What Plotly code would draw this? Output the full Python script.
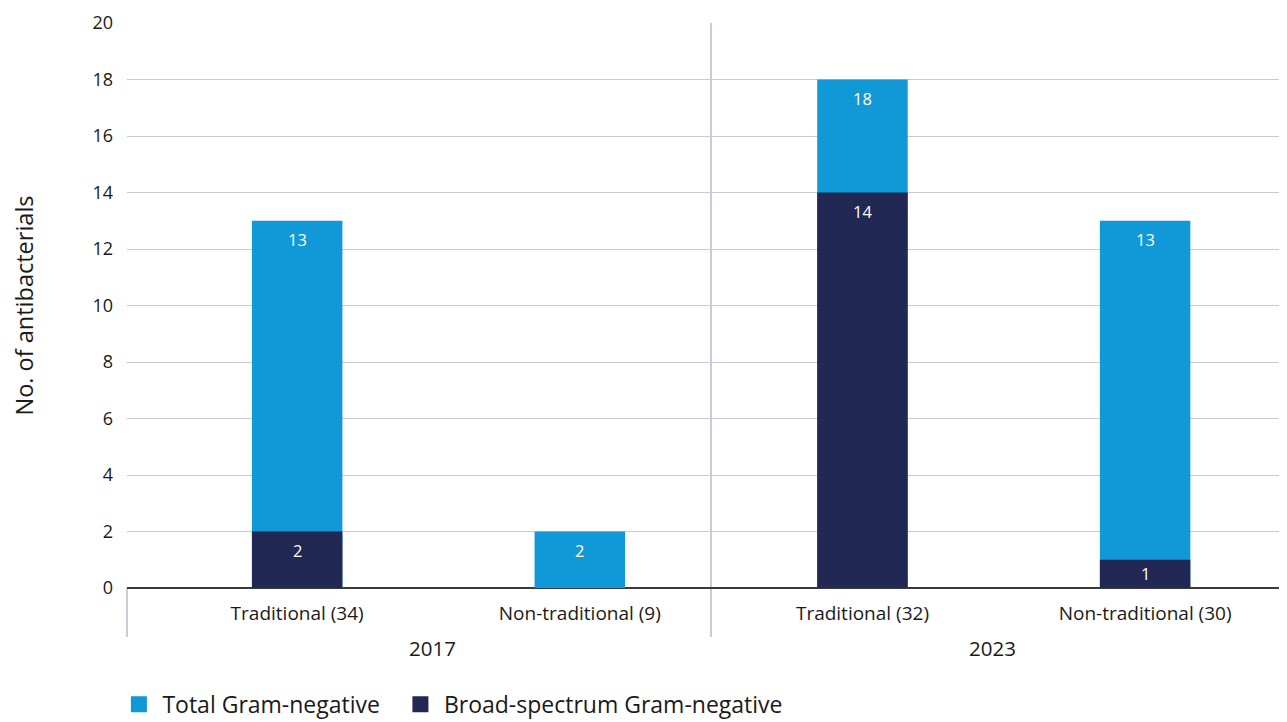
import plotly.graph_objects as go

categories = ["Traditional (34)", "Non-traditional (9)", "Traditional (32)", "Non-traditional (30)"]
years = ["2017", "2023"]
total_gram_negative = [13, 2, 18, 13]
broad_spectrum = [2, 0, 14, 1]
y_ticks = [0, 2, 4, 6, 8, 10, 12, 14, 16, 18, 20]

LIGHT = "#1198d6"
DARK = "#212853"
FONT = "Open Sans"
GRID = "#cac8db"
TXT = "#1a1a1a"

fig = go.Figure()
fig.add_trace(go.Bar(
    x=categories, y=total_gram_negative, name="Total Gram-negative",
    marker=dict(color=LIGHT, line=dict(width=0)), width=0.32,
    showlegend=False,
))
fig.add_trace(go.Bar(
    x=categories, y=broad_spectrum, name="Broad-spectrum Gram-negative",
    marker=dict(color=DARK, line=dict(width=0)), width=0.32,
    showlegend=False,
))
# value labels inside the top of each bar (centred in very short bars)
for series in (total_gram_negative, broad_spectrum):
    for cat, v in zip(categories, series):
        if v:
            fig.add_annotation(x=cat, y=max(v - 0.67, v / 2), xref="x", yref="y", text=str(v),
                               showarrow=False, yanchor="middle",
                               font=dict(size=16.5, family=FONT, color="white"))
# legend entries with square swatches
NBSP = "\u00a0"
for nm, col in [("Total Gram-negative" + NBSP * 2, LIGHT), ("Broad-spectrum Gram-negative", DARK)]:
    fig.add_trace(go.Scatter(
        x=[None], y=[None], mode="markers", name=nm,
        marker=dict(symbol="square", size=22, color=col),
    ))

fig.update_layout(
    width=1279, height=730,
    margin=dict(l=119, r=0, t=15, b=150),
    barmode="overlay",
    plot_bgcolor="white", paper_bgcolor="white",
    font=dict(family=FONT, color=TXT),
    legend=dict(orientation="h", x=-0.01, xanchor="left", y=-0.206, yanchor="middle",
                font=dict(size=23, family=FONT, color=TXT), tracegroupgap=0, itemwidth=37),
)
fig.update_xaxes(
    type="category", range=[-0.602, 3.502],
    tickfont=dict(size=19, family=FONT, color=TXT),
    ticks="", ticklabelstandoff=12, showgrid=False, showline=False, zeroline=False,
)
fig.update_yaxes(
    range=[0, 20], tickvals=y_ticks,
    tickfont=dict(size=18, family=FONT, color=TXT),
    gridcolor=GRID, gridwidth=1,
    zeroline=True, zerolinecolor="#3a3a3a", zerolinewidth=2,
    showline=False, ticks="", ticklabelstandoff=13,
    title=dict(text="No. of antibacterials", font=dict(size=23.5, family=FONT, color=TXT), standoff=62),
)

# group dividers
div_x = (711 - 127) / 1160
fig.add_shape(type="line", xref="paper", yref="paper", x0=0, x1=0, y0=-0.0867, y1=0,
              line=dict(color=GRID, width=2), layer="below")
fig.add_shape(type="line", xref="paper", yref="paper", x0=div_x, x1=div_x, y0=-0.0867, y1=1,
              line=dict(color=GRID, width=2), layer="below")

# year labels
for xpos, yr in zip([0.48, 2.46], years):
    fig.add_annotation(x=xpos, xref="x", y=-0.107, yref="paper", text=yr, showarrow=False,
                       yanchor="middle", font=dict(size=20.5, family=FONT, color=TXT))

fig.write_html("out.html")
